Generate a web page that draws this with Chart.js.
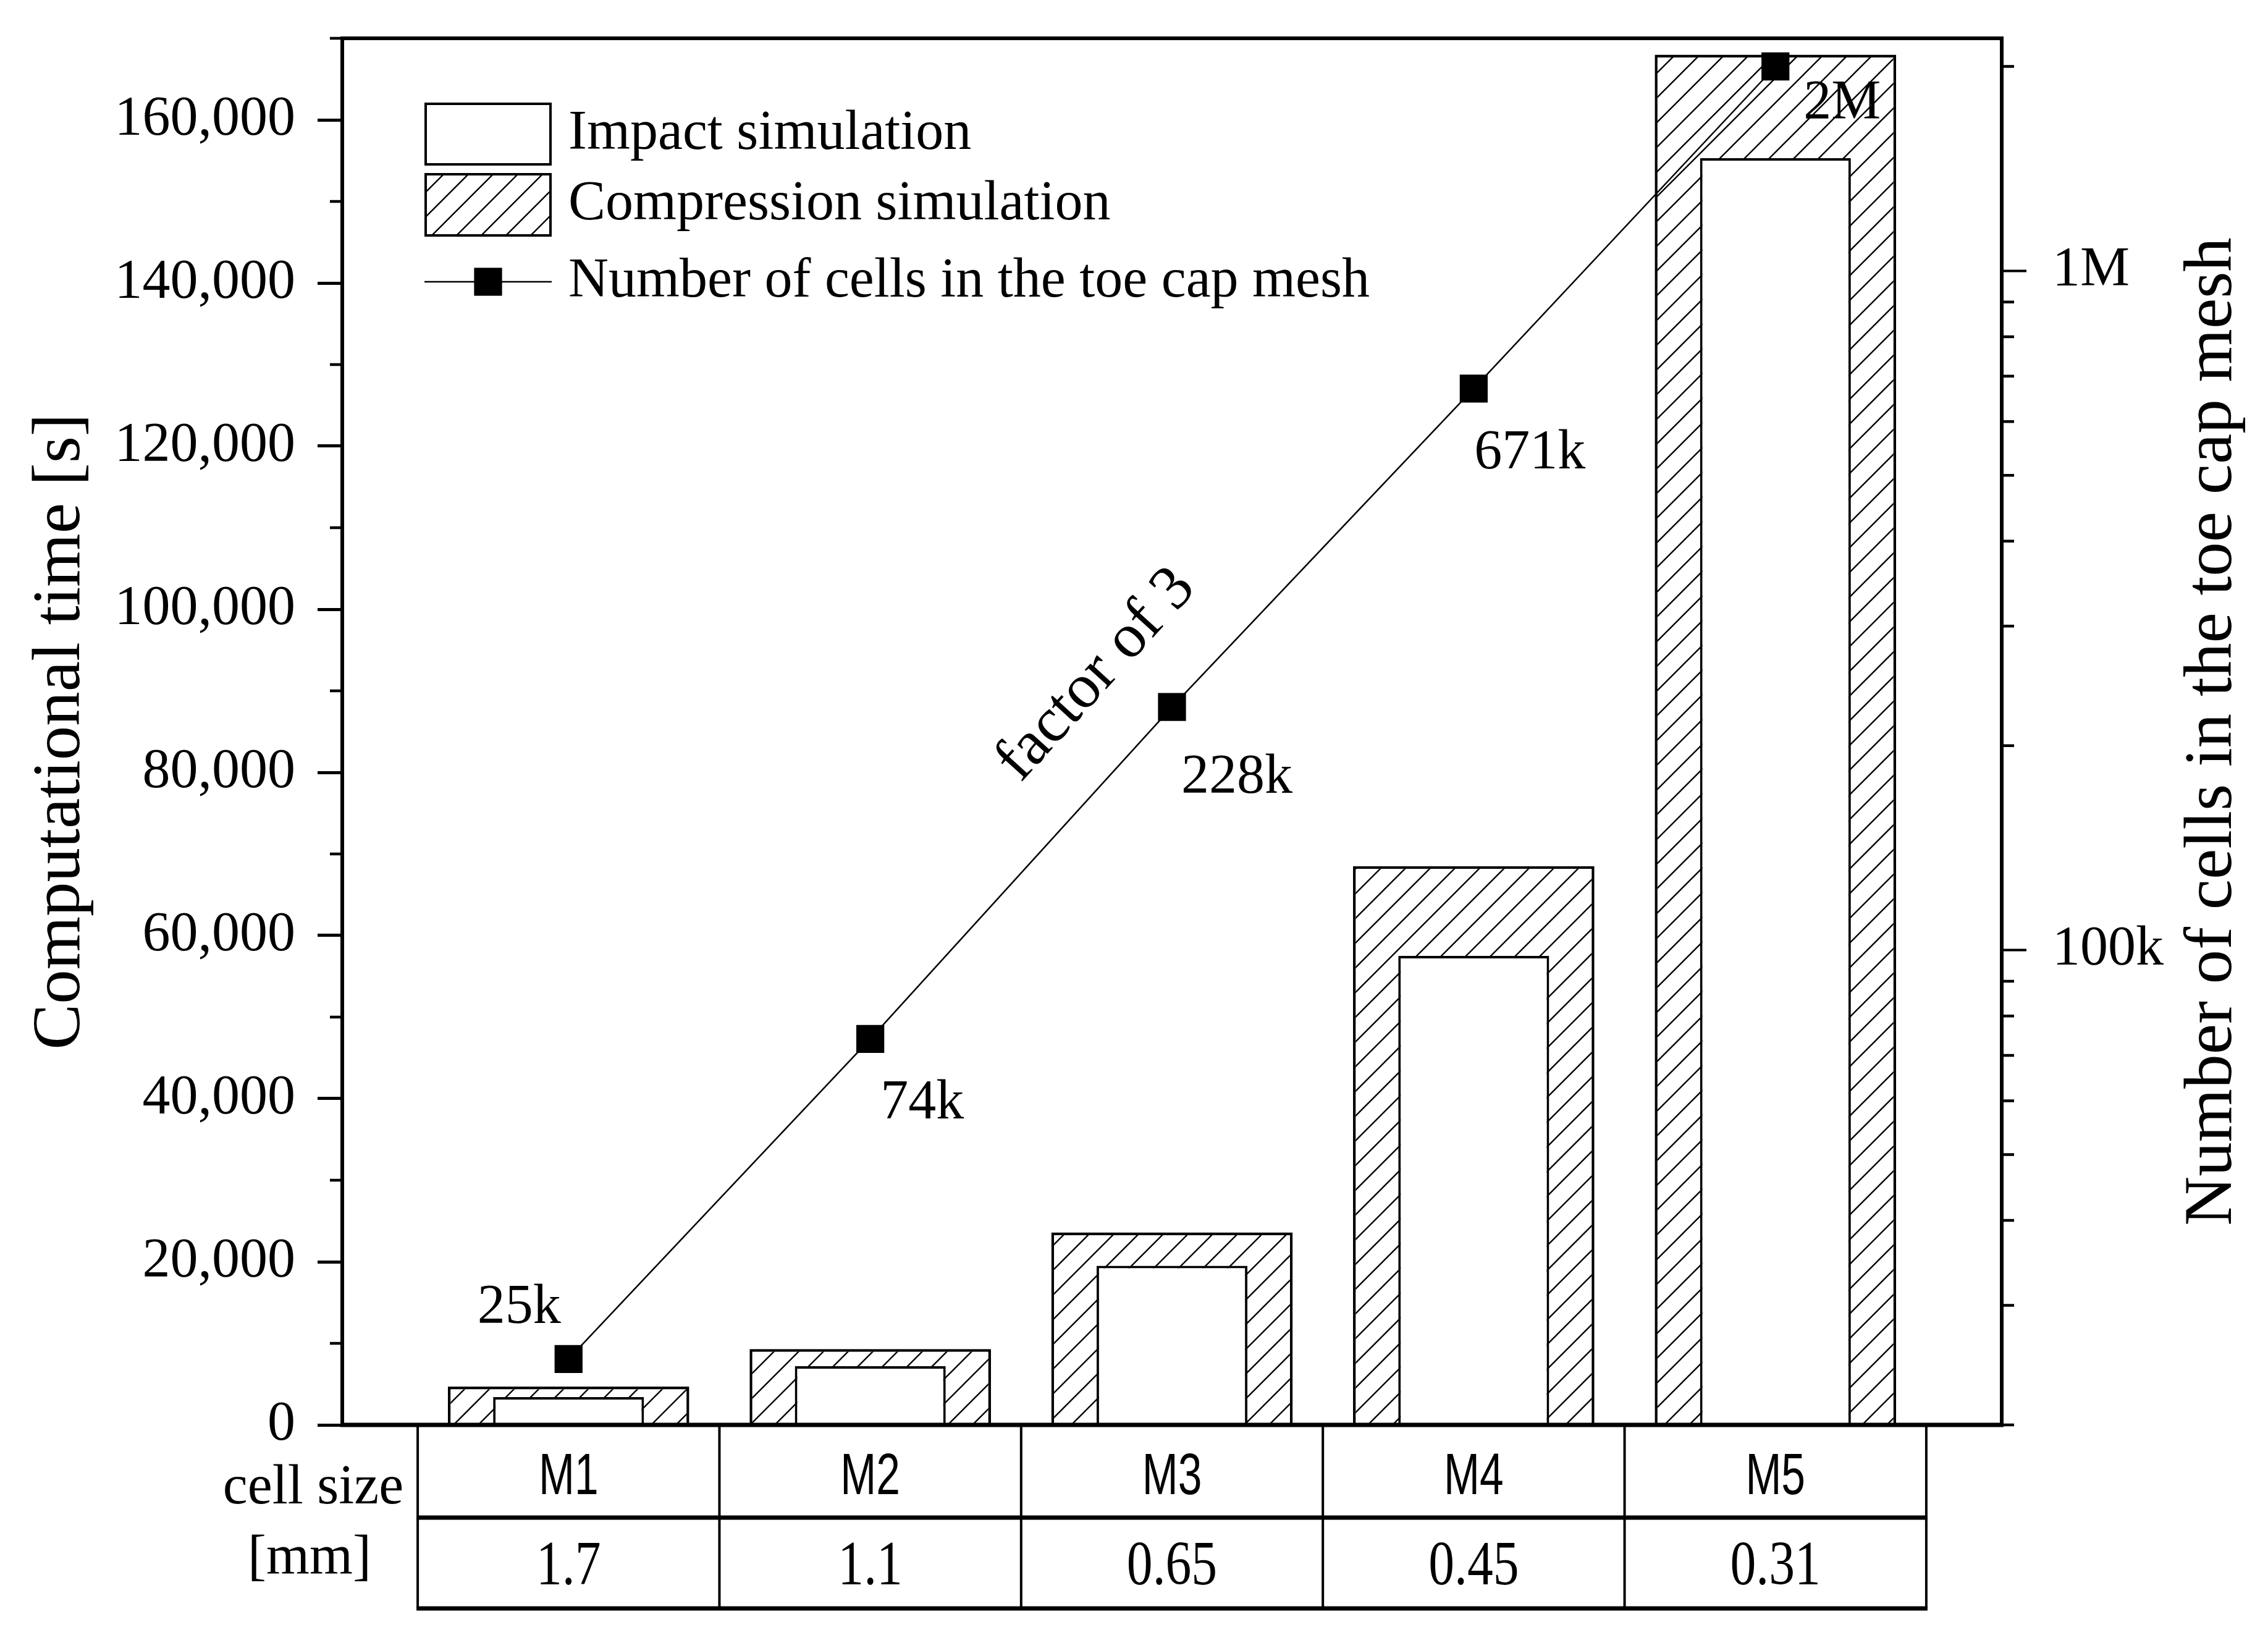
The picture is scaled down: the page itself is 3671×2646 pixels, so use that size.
<!DOCTYPE html>
<html>
<head>
<meta charset="utf-8">
<script src="https://cdn.jsdelivr.net/npm/chart.js@4"></script>
<style>
html,body{margin:0;padding:0;background:#fff;}
canvas{display:block;}
</style>
</head>
<body>
<canvas id="c" width="3671" height="2646" style="width:3671px;height:2646px"></canvas>
<script>
// ---------------- data ----------------
const categories = ['M1', 'M2', 'M3', 'M4', 'M5'];
const cellSizes = ['1.7', '1.1', '0.65', '0.45', '0.31'];
const impactTime = [3400, 7200, 19500, 57500, 155300];
const compressionTime = [4700, 9300, 23600, 68500, 168000];
const cellCounts = [25000, 74000, 228000, 671000, 2000000];
const timeTicks = [0, 20000, 40000, 60000, 80000, 100000, 120000, 140000, 160000];
const timeMinorTicks = [10000, 30000, 50000, 70000, 90000, 110000, 130000, 150000, 170000];
const cellMajorTicks = [100000, 1000000];
const cellMinorTicks = [20000, 30000, 40000, 50000, 60000, 70000, 80000, 90000,
  200000, 300000, 400000, 500000, 600000, 700000, 800000, 900000, 2000000];
const seriesLabels = ['Impact simulation', 'Compression simulation', 'Number of cells in the toe cap mesh'];
const leftTitle = 'Computational time [s]';
const rightTitle = 'Number of cells in the toe cap mesh';
const tableRowTitles = ['cell size', '[mm]'];
const factorNote = { text: 'factor of 3', x: 1.75, y: 254000 };

function fmtCells(v) {
  return v >= 1e6 ? (v / 1e6) + 'M' : Math.round(v / 1000) + 'k';
}

const canvas = document.getElementById('c');
const mainCtx = canvas.getContext('2d');

function makeHatch() {
  const s = 40;
  const c = document.createElement('canvas');
  c.width = s; c.height = s;
  const g = c.getContext('2d');
  g.fillStyle = '#fff';
  g.fillRect(0, 0, s, s);
  g.strokeStyle = '#000';
  g.lineWidth = 2.4;
  g.beginPath();
  g.moveTo(-6, s + 6); g.lineTo(s + 6, -6);
  g.moveTo(-6, 6); g.lineTo(6, -6);
  g.moveTo(s - 6, s + 6); g.lineTo(s + 6, s - 6);
  g.stroke();
  return mainCtx.createPattern(c, 'repeat');
}
const hatch = makeHatch();

const SERIF = '"Liberation Serif", "Times New Roman", serif';
const SANS = '"Liberation Sans", Arial, sans-serif';

function fixVertical(width) {
  return s => {
    s.width = width;
    s.paddingTop = 0;
    s.paddingBottom = 0;
  };
}

const decor = {
  id: 'decor',
  afterDraw(chart, args, o) {
    const { ctx, chartArea: ca, scales } = chart;
    const xs = scales.x, ys = scales.y, y1 = scales.y1;
    ctx.save();
    ctx.strokeStyle = '#000';
    ctx.fillStyle = '#000';
    ctx.lineCap = 'butt';

    // frame top and base line
    ctx.lineWidth = o.frameWidth;
    ctx.beginPath();
    ctx.moveTo(ca.left - 3, ca.top); ctx.lineTo(ca.right + 3, ca.top);
    ctx.stroke();
    ctx.lineWidth = o.baseWidth;
    ctx.beginPath();
    ctx.moveTo(ca.left - 3, ca.bottom); ctx.lineTo(ca.right + 3, ca.bottom);
    ctx.stroke();

    // minor ticks
    ctx.lineWidth = o.minorTickWidth;
    ctx.beginPath();
    timeMinorTicks.forEach(v => {
      const p = ys.getPixelForValue(v);
      ctx.moveTo(ca.left - o.minorTickLen, p); ctx.lineTo(ca.left, p);
    });
    cellMinorTicks.forEach(v => {
      const p = y1.getPixelForValue(v);
      ctx.moveTo(ca.right, p); ctx.lineTo(ca.right + o.minorTickLen, p);
    });
    ctx.stroke();

    // table below the plot
    const n = categories.length;
    const L = xs.getPixelForValue(-0.5), R = xs.getPixelForValue(n - 0.5);
    const tTop = ca.bottom, tMid = o.table.mid, tBot = o.table.bottom;
    ctx.lineWidth = o.table.hWidth;
    ctx.beginPath();
    ctx.moveTo(L - 2, tMid); ctx.lineTo(R + 2, tMid);
    ctx.moveTo(L - 2, tBot); ctx.lineTo(R + 2, tBot);
    ctx.stroke();
    ctx.lineWidth = o.table.vWidth;
    ctx.beginPath();
    for (let i = 0; i <= n; i++) {
      const px = xs.getPixelForValue(i - 0.5);
      ctx.moveTo(px, tTop); ctx.lineTo(px, tBot);
    }
    ctx.stroke();
    ctx.textAlign = 'center';
    ctx.textBaseline = 'alphabetic';
    categories.forEach((c, i) => {
      const cx = xs.getPixelForValue(i);
      ctx.save();
      ctx.translate(cx, o.table.row1Base);
      ctx.scale(o.table.row1Scale, 1);
      ctx.font = o.table.row1Font;
      ctx.fillText(c, 0, 0);
      ctx.restore();
      ctx.save();
      ctx.translate(cx, o.table.row2Base);
      ctx.scale(o.table.row2Scale, 1);
      ctx.font = o.table.row2Font;
      ctx.fillText(cellSizes[i], 0, 0);
      ctx.restore();
    });
    ctx.font = o.textFont;
    ctx.textAlign = 'right';
    ctx.fillText(tableRowTitles[0], L + o.table.title1Dx, o.table.title1Base);
    ctx.textAlign = 'center';
    ctx.fillText(tableRowTitles[1], L + o.table.title2Dx, o.table.title2Base);

    // point labels
    const lineMeta = chart.getDatasetMeta(2);
    ctx.font = o.textFont;
    ctx.textAlign = 'center';
    ctx.textBaseline = 'middle';
    lineMeta.data.forEach((pt, i) => {
      const off = o.pointLabelOffsets[i];
      ctx.fillText(fmtCells(cellCounts[i]), pt.x + off[0], pt.y + off[1]);
    });

    // factor of 3 note, rotated along the M2-M3 segment
    const p2 = lineMeta.data[1], p3 = lineMeta.data[2];
    const ang = Math.atan2(p3.y - p2.y, p3.x - p2.x);
    ctx.save();
    ctx.translate(xs.getPixelForValue(factorNote.x), y1.getPixelForValue(factorNote.y));
    ctx.rotate(ang);
    ctx.font = o.noteFont;
    ctx.fillText(factorNote.text, 0, 0);
    ctx.restore();

    // right axis title (reads bottom to top)
    ctx.save();
    ctx.translate(ca.right + o.rightTitleDx, (ca.top + ca.bottom) / 2);
    ctx.rotate(-Math.PI / 2);
    ctx.font = o.titleFont;
    ctx.fillText(rightTitle, 0, 0);
    ctx.restore();

    // legend
    const lg = o.legend;
    const ds = chart.data.datasets;
    ctx.lineWidth = lg.boxLine;
    ctx.fillStyle = ds[0].backgroundColor;
    ctx.fillRect(lg.x, lg.rows[0][0], lg.w, lg.rows[0][1] - lg.rows[0][0]);
    ctx.strokeRect(lg.x + lg.boxLine / 2, lg.rows[0][0] + lg.boxLine / 2, lg.w - lg.boxLine, lg.rows[0][1] - lg.rows[0][0] - lg.boxLine);
    ctx.fillStyle = ds[1].backgroundColor;
    ctx.fillRect(lg.x, lg.rows[1][0], lg.w, lg.rows[1][1] - lg.rows[1][0]);
    ctx.strokeRect(lg.x + lg.boxLine / 2, lg.rows[1][0] + lg.boxLine / 2, lg.w - lg.boxLine, lg.rows[1][1] - lg.rows[1][0] - lg.boxLine);
    ctx.fillStyle = '#000';
    ctx.lineWidth = ds[2].borderWidth;
    ctx.beginPath();
    ctx.moveTo(lg.x, lg.lineY); ctx.lineTo(lg.x + lg.w, lg.lineY);
    ctx.stroke();
    const side = ds[2].pointRadius * Math.SQRT2;
    ctx.fillRect(lg.x + lg.w / 2 - side / 2, lg.lineY - side / 2, side, side);
    ctx.font = o.textFont;
    ctx.textAlign = 'left';
    ctx.textBaseline = 'middle';
    seriesLabels.forEach((t, i) => ctx.fillText(t, lg.textX, lg.textY[i]));

    ctx.restore();
  }
};

new Chart(canvas, {
  type: 'bar',
  data: {
    datasets: [
      {
        type: 'bar',
        label: seriesLabels[0],
        data: categories.map((c, i) => ({ x: i, y: impactTime[i] })),
        backgroundColor: '#fff',
        borderColor: '#000',
        borderWidth: 4,
        grouped: false,
        categoryPercentage: 1,
        barPercentage: 0.5,
        order: 1,
        xAxisID: 'x',
        yAxisID: 'y'
      },
      {
        type: 'bar',
        label: seriesLabels[1],
        data: categories.map((c, i) => ({ x: i, y: compressionTime[i] })),
        backgroundColor: hatch,
        borderColor: '#000',
        borderWidth: 4.5,
        grouped: false,
        categoryPercentage: 1,
        barPercentage: 0.8,
        order: 2,
        xAxisID: 'x',
        yAxisID: 'y'
      },
      {
        type: 'line',
        label: seriesLabels[2],
        data: categories.map((c, i) => ({ x: i, y: cellCounts[i] })),
        borderColor: '#000',
        borderWidth: 2.5,
        pointStyle: 'rect',
        pointRadius: 32,
        pointBackgroundColor: '#000',
        pointBorderColor: '#000',
        pointBorderWidth: 0,
        tension: 0,
        fill: false,
        order: 0,
        xAxisID: 'x',
        yAxisID: 'y1'
      }
    ]
  },
  options: {
    responsive: false,
    devicePixelRatio: 1,
    animation: false,
    events: [],
    layout: { autoPadding: false, padding: { left: 0, right: 0, top: 62, bottom: 340 } },
    scales: {
      x: {
        type: 'linear',
        min: -0.75,
        max: 4.75,
        bounds: 'data',
        offset: false,
        display: false,
        afterBuildTicks: s => { s.ticks = categories.map((c, i) => ({ value: i })); }
      },
      y: {
        type: 'linear',
        position: 'left',
        min: 0,
        max: 170000,
        bounds: 'data',
        afterBuildTicks: s => { s.ticks = timeTicks.map(v => ({ value: v })); },
        afterFit: fixVertical(554),
        ticks: {
          autoSkip: false,
          color: '#000',
          padding: 36,
          font: { family: SERIF, size: 90 },
          callback: v => Number(v).toLocaleString('en-US')
        },
        grid: {
          drawOnChartArea: false,
          drawTicks: true,
          tickLength: 40,
          tickWidth: 5,
          tickColor: '#000',
          color: '#000'
        },
        border: { display: true, color: '#000', width: 6 },
        title: {
          display: true,
          text: leftTitle,
          color: '#000',
          font: { family: SERIF, size: 111, lineHeight: 1 },
          padding: { top: 43, bottom: 0 }
        }
      },
      y1: {
        type: 'logarithmic',
        position: 'right',
        min: 20000,
        max: 2200000,
        bounds: 'data',
        afterBuildTicks: s => { s.ticks = cellMajorTicks.map(v => ({ value: v })); },
        afterFit: fixVertical(431),
        ticks: {
          autoSkip: false,
          color: '#000',
          padding: 42,
          font: { family: SERIF, size: 90 },
          callback: v => fmtCells(Number(v))
        },
        grid: {
          drawOnChartArea: false,
          drawTicks: true,
          tickLength: 40,
          tickWidth: 4,
          tickColor: '#000',
          color: '#000'
        },
        border: { display: true, color: '#000', width: 6 },
        title: { display: false }
      }
    },
    plugins: {
      legend: { display: false },
      tooltip: { enabled: false },
      decor: {
        frameWidth: 6,
        baseWidth: 7,
        minorTickWidth: 4.5,
        minorTickLen: 20,
        textFont: '90px ' + SERIF,
        noteFont: '102px ' + SERIF,
        titleFont: '111px ' + SERIF,
        rightTitleDx: 342,
        pointLabelOffsets: [[-80, -82], [84, 105], [105, 115], [91, 105], [108, 61]],
        table: {
          mid: 2456, bottom: 2603, hWidth: 7, vWidth: 4,
          row1Base: 2418, row1Font: '94px ' + SANS, row1Scale: 0.74,
          row2Base: 2564, row2Font: '102px ' + SERIF, row2Scale: 0.82,
          title1Dx: -23, title1Base: 2433,
          title2Dx: -175, title2Base: 2547
        },
        legend: {
          x: 687, w: 206, boxLine: 4,
          rows: [[166, 268], [280, 383]],
          lineY: 456,
          textX: 920,
          textY: [217, 331, 456]
        }
      }
    }
  },
  plugins: [decor]
});
</script>
</body>
</html>
